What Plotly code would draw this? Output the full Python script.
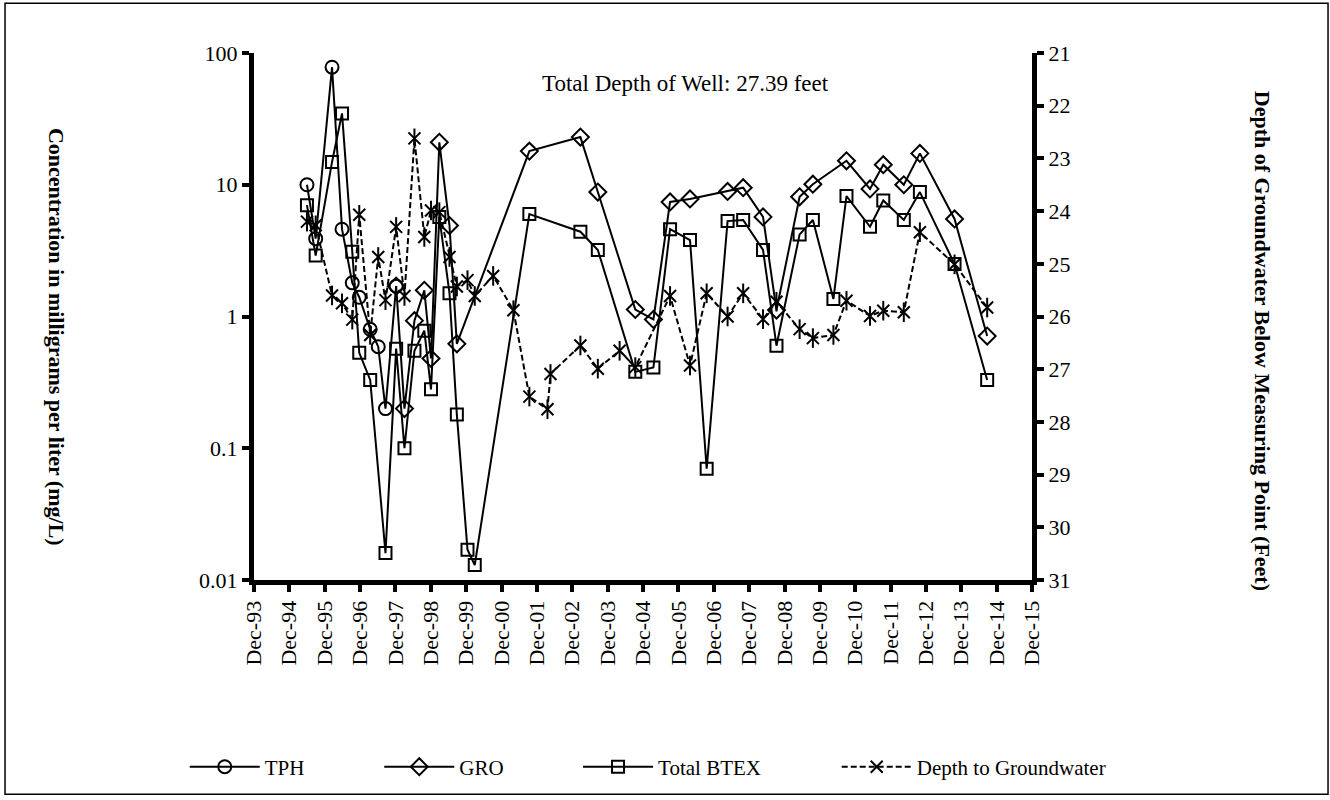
import plotly.graph_objects as go

# ---------------- data ----------------
tph_dates = ["1995-06-01", "1995-08-30", "1996-02-15", "1996-05-28", "1996-09-11",
             "1996-11-22", "1997-03-15", "1997-06-06", "1997-08-20", "1997-12-08"]
tph_values = [10, 3.9, 78, 4.6, 1.8, 1.4, 0.8, 0.59, 0.2, 1.7]

gro_dates = ["1997-12-08", "1998-03-04", "1998-06-15", "1998-09-25", "1998-12-03",
             "1999-02-27", "1999-06-12", "1999-08-27", "2001-09-14", "2003-02-23",
             "2003-08-22", "2004-09-12", "2005-03-18", "2005-09-06", "2006-03-31",
             "2007-04-23", "2007-10-01", "2008-04-23", "2008-09-09", "2009-05-06",
             "2009-09-20", "2010-09-02", "2011-05-03", "2011-09-17", "2012-04-16",
             "2012-09-29", "2013-09-22", "2014-08-25"]
gro_values = [1.7, 0.2, 0.93, 1.58, 0.48, 21, 4.9, 0.62, 18, 23,
              8.8, 1.13, 0.95, 7.4, 7.8, 8.9, 9.5, 5.7, 1.12, 8.1,
              10.1, 15.2, 9.3, 14.2, 10, 17.3, 5.5, 0.71]

btex_dates = ["1995-06-01", "1995-08-30", "1996-02-15", "1996-05-28", "1996-09-11",
              "1996-11-22", "1997-03-15", "1997-08-20", "1997-12-08", "1998-03-04",
              "1998-06-15", "1998-09-25", "1998-12-03", "1999-02-27", "1999-06-12",
              "1999-08-27", "1999-12-15", "2000-02-28", "2001-09-14", "2003-02-23",
              "2003-08-22", "2004-09-12", "2005-03-18", "2005-09-06", "2006-03-31",
              "2006-09-19", "2007-04-23", "2007-10-01", "2008-04-23", "2008-09-09",
              "2009-05-06", "2009-09-20", "2010-04-20", "2010-09-02", "2011-05-03",
              "2011-09-17", "2012-04-16", "2012-09-29", "2013-09-22", "2014-08-25"]
btex_values = [7.0, 2.9, 14.9, 34.8, 3.1, 0.53, 0.33, 0.016, 0.57, 0.1,
               0.55, 0.78, 0.28, 5.7, 1.5, 0.18, 0.017, 0.013, 6.0, 4.4,
               3.2, 0.38, 0.41, 4.6, 3.8, 0.07, 5.3, 5.4, 3.2, 0.6,
               4.2, 5.4, 1.36, 8.2, 4.8, 7.6, 5.4, 8.8, 2.5, 0.33]

depth_dates = ["1995-06-01", "1995-08-30", "1996-02-15", "1996-05-28", "1996-09-11",
               "1996-11-22", "1997-03-15", "1997-06-06", "1997-08-20", "1997-12-08",
               "1998-03-04", "1998-06-15", "1998-09-25", "1998-12-03", "1999-02-27",
               "1999-06-12", "1999-08-27", "1999-12-15", "2000-02-28", "2000-09-05",
               "2001-04-02", "2001-09-14", "2002-03-20", "2002-04-20", "2003-02-23",
               "2003-08-22", "2004-04-03", "2004-09-12", "2005-09-06", "2006-03-31",
               "2006-09-19", "2007-04-23", "2007-10-01", "2008-04-23", "2008-09-09",
               "2009-05-06", "2009-09-20", "2010-04-20", "2010-09-02", "2011-05-03",
               "2011-09-17", "2012-04-16", "2012-09-29", "2013-09-22", "2014-08-25"]
depth_values = [24.2, 24.27, 25.6, 25.75, 26.06, 24.07, 26.35, 24.87, 25.69, 24.3,
                25.61, 22.62, 24.49, 23.99, 24.02, 24.87, 25.43, 25.31, 25.61, 25.23,
                25.88, 27.52, 27.76, 27.09, 26.55, 26.99, 26.65, 26.96, 25.61, 26.93,
                25.56, 26.0, 25.56, 26.05, 25.72, 26.24, 26.41, 26.35, 25.7, 25.99,
                25.89, 25.92, 24.4, 25.01, 25.83]

x_tick_vals = [f"{y}-12-01" for y in range(1993, 2016)]
x_tick_text = [f"Dec-{str(y)[-2:]}" for y in range(1993, 2016)]
conc_tick_vals = [0.01, 0.1, 1, 10, 100]
conc_tick_text = ["0.01", "0.1", "1", "10", "100"]
depth_tick_vals = list(range(21, 32))

FONT = "Liberation Serif, Times New Roman, serif"

# ---------------- figure ----------------
fig = go.Figure()

line_style = dict(color="black", width=2)

fig.add_trace(go.Scatter(
    x=tph_dates, y=tph_values, name="TPH", mode="lines+markers",
    line=line_style, legend="legend",
    marker=dict(symbol="circle-open", size=13, color="black", line=dict(width=2)),
))
fig.add_trace(go.Scatter(
    x=gro_dates, y=gro_values, name="GRO", mode="lines+markers",
    line=line_style, legend="legend2",
    marker=dict(symbol="diamond-open", size=13, color="black", line=dict(width=2)),
))
fig.add_trace(go.Scatter(
    x=btex_dates, y=btex_values, name="Total BTEX", mode="lines+markers",
    line=line_style, legend="legend3",
    marker=dict(symbol="square-open", size=12, color="black", line=dict(width=2)),
))
fig.add_trace(go.Scatter(
    x=depth_dates, y=depth_values, name="Depth to Groundwater", mode="lines+markers",
    yaxis="y2", legend="legend4",
    line=dict(color="black", width=2, dash="6px,3px"),
    marker=dict(symbol="x-thin-open", size=12, color="black", line=dict(width=2)),
))
fig.add_trace(go.Scatter(
    x=depth_dates, y=depth_values, mode="markers", yaxis="y2", showlegend=False,
    marker=dict(symbol="line-ns-open", size=14, color="black", line=dict(width=2)),
    hoverinfo="skip",
))

axis_common = dict(showgrid=False, zeroline=False, showline=True, linecolor="black",
                   linewidth=5, ticks="outside", ticklen=7, tickwidth=4, tickcolor="black",
                   tickfont=dict(family=FONT, size=22, color="black"))

fig.update_layout(
    width=1330, height=800, autosize=False,
    margin=dict(l=254, r=298, t=53, b=218),
    paper_bgcolor="white", plot_bgcolor="white",
    font=dict(family=FONT, size=22, color="black"),
    xaxis=dict(type="date", range=["1993-12-01", "2015-12-01"],
               tickvals=x_tick_vals, ticktext=x_tick_text, tickangle=-90,
               **axis_common),
    xaxis2=dict(type="date", range=["1993-12-01", "2015-12-01"], overlaying="x",
                anchor="y", side="bottom", tickvals=x_tick_vals, showticklabels=False,
                showgrid=False, zeroline=False, showline=False, ticks="inside",
                ticklen=6, tickwidth=4, tickcolor="black"),
    yaxis=dict(type="log", range=[-2, 2], tickvals=conc_tick_vals, ticktext=conc_tick_text,
               **axis_common),
    yaxis2=dict(range=[31, 21], overlaying="y", side="right", tickvals=depth_tick_vals,
                **axis_common),
    yaxis3=dict(type="log", range=[-2, 2], overlaying="y", side="left",
                tickvals=conc_tick_vals, showticklabels=False, showgrid=False,
                zeroline=False, showline=False, ticks="inside", ticklen=6,
                tickwidth=4, tickcolor="black"),
    yaxis4=dict(range=[31, 21], overlaying="y", side="right", tickvals=depth_tick_vals,
                showticklabels=False, showgrid=False, zeroline=False, showline=False,
                ticks="inside", ticklen=6, tickwidth=4, tickcolor="black"),
)

leg_common = dict(orientation="h", xanchor="left", yanchor="middle", y=-0.355,
                  bgcolor="rgba(0,0,0,0)", itemwidth=70,
                  font=dict(family=FONT, size=21, color="black"))
fig.update_layout(
    legend=dict(x=-0.089, **leg_common),
    legend2=dict(x=0.161, **leg_common),
    legend3=dict(x=0.4165, **leg_common),
    legend4=dict(x=0.749, **leg_common),
)

# frame border
fig.add_shape(type="rect", xref="paper", yref="paper",
              x0=-0.32, x1=1.3805, y0=-0.4064, y1=1.0945,
              line=dict(color="black", width=1.5), fillcolor="rgba(0,0,0,0)", layer="below")

fig.add_annotation(text="Total Depth of Well: 27.39 feet", xref="paper", yref="paper",
                   x=0.554, y=0.943, xanchor="center", yanchor="middle", showarrow=False,
                   font=dict(family=FONT, size=23, color="black"))
fig.add_annotation(text="<b>Concentration in milligrams per liter (mg/L)</b>",
                   xref="paper", yref="paper", x=-0.253, y=0.461, textangle=90,
                   xanchor="center", yanchor="middle",
                   showarrow=False, font=dict(family=FONT, size=22, color="black"))
fig.add_annotation(text="<b>Depth of Groundwater Below Measuring Point (Feet)</b>",
                   xref="paper", yref="paper", x=1.2956, y=0.454, textangle=90,
                   xanchor="center", yanchor="middle",
                   showarrow=False, font=dict(family=FONT, size=22, color="black"))

fig.write_html("out.html")
